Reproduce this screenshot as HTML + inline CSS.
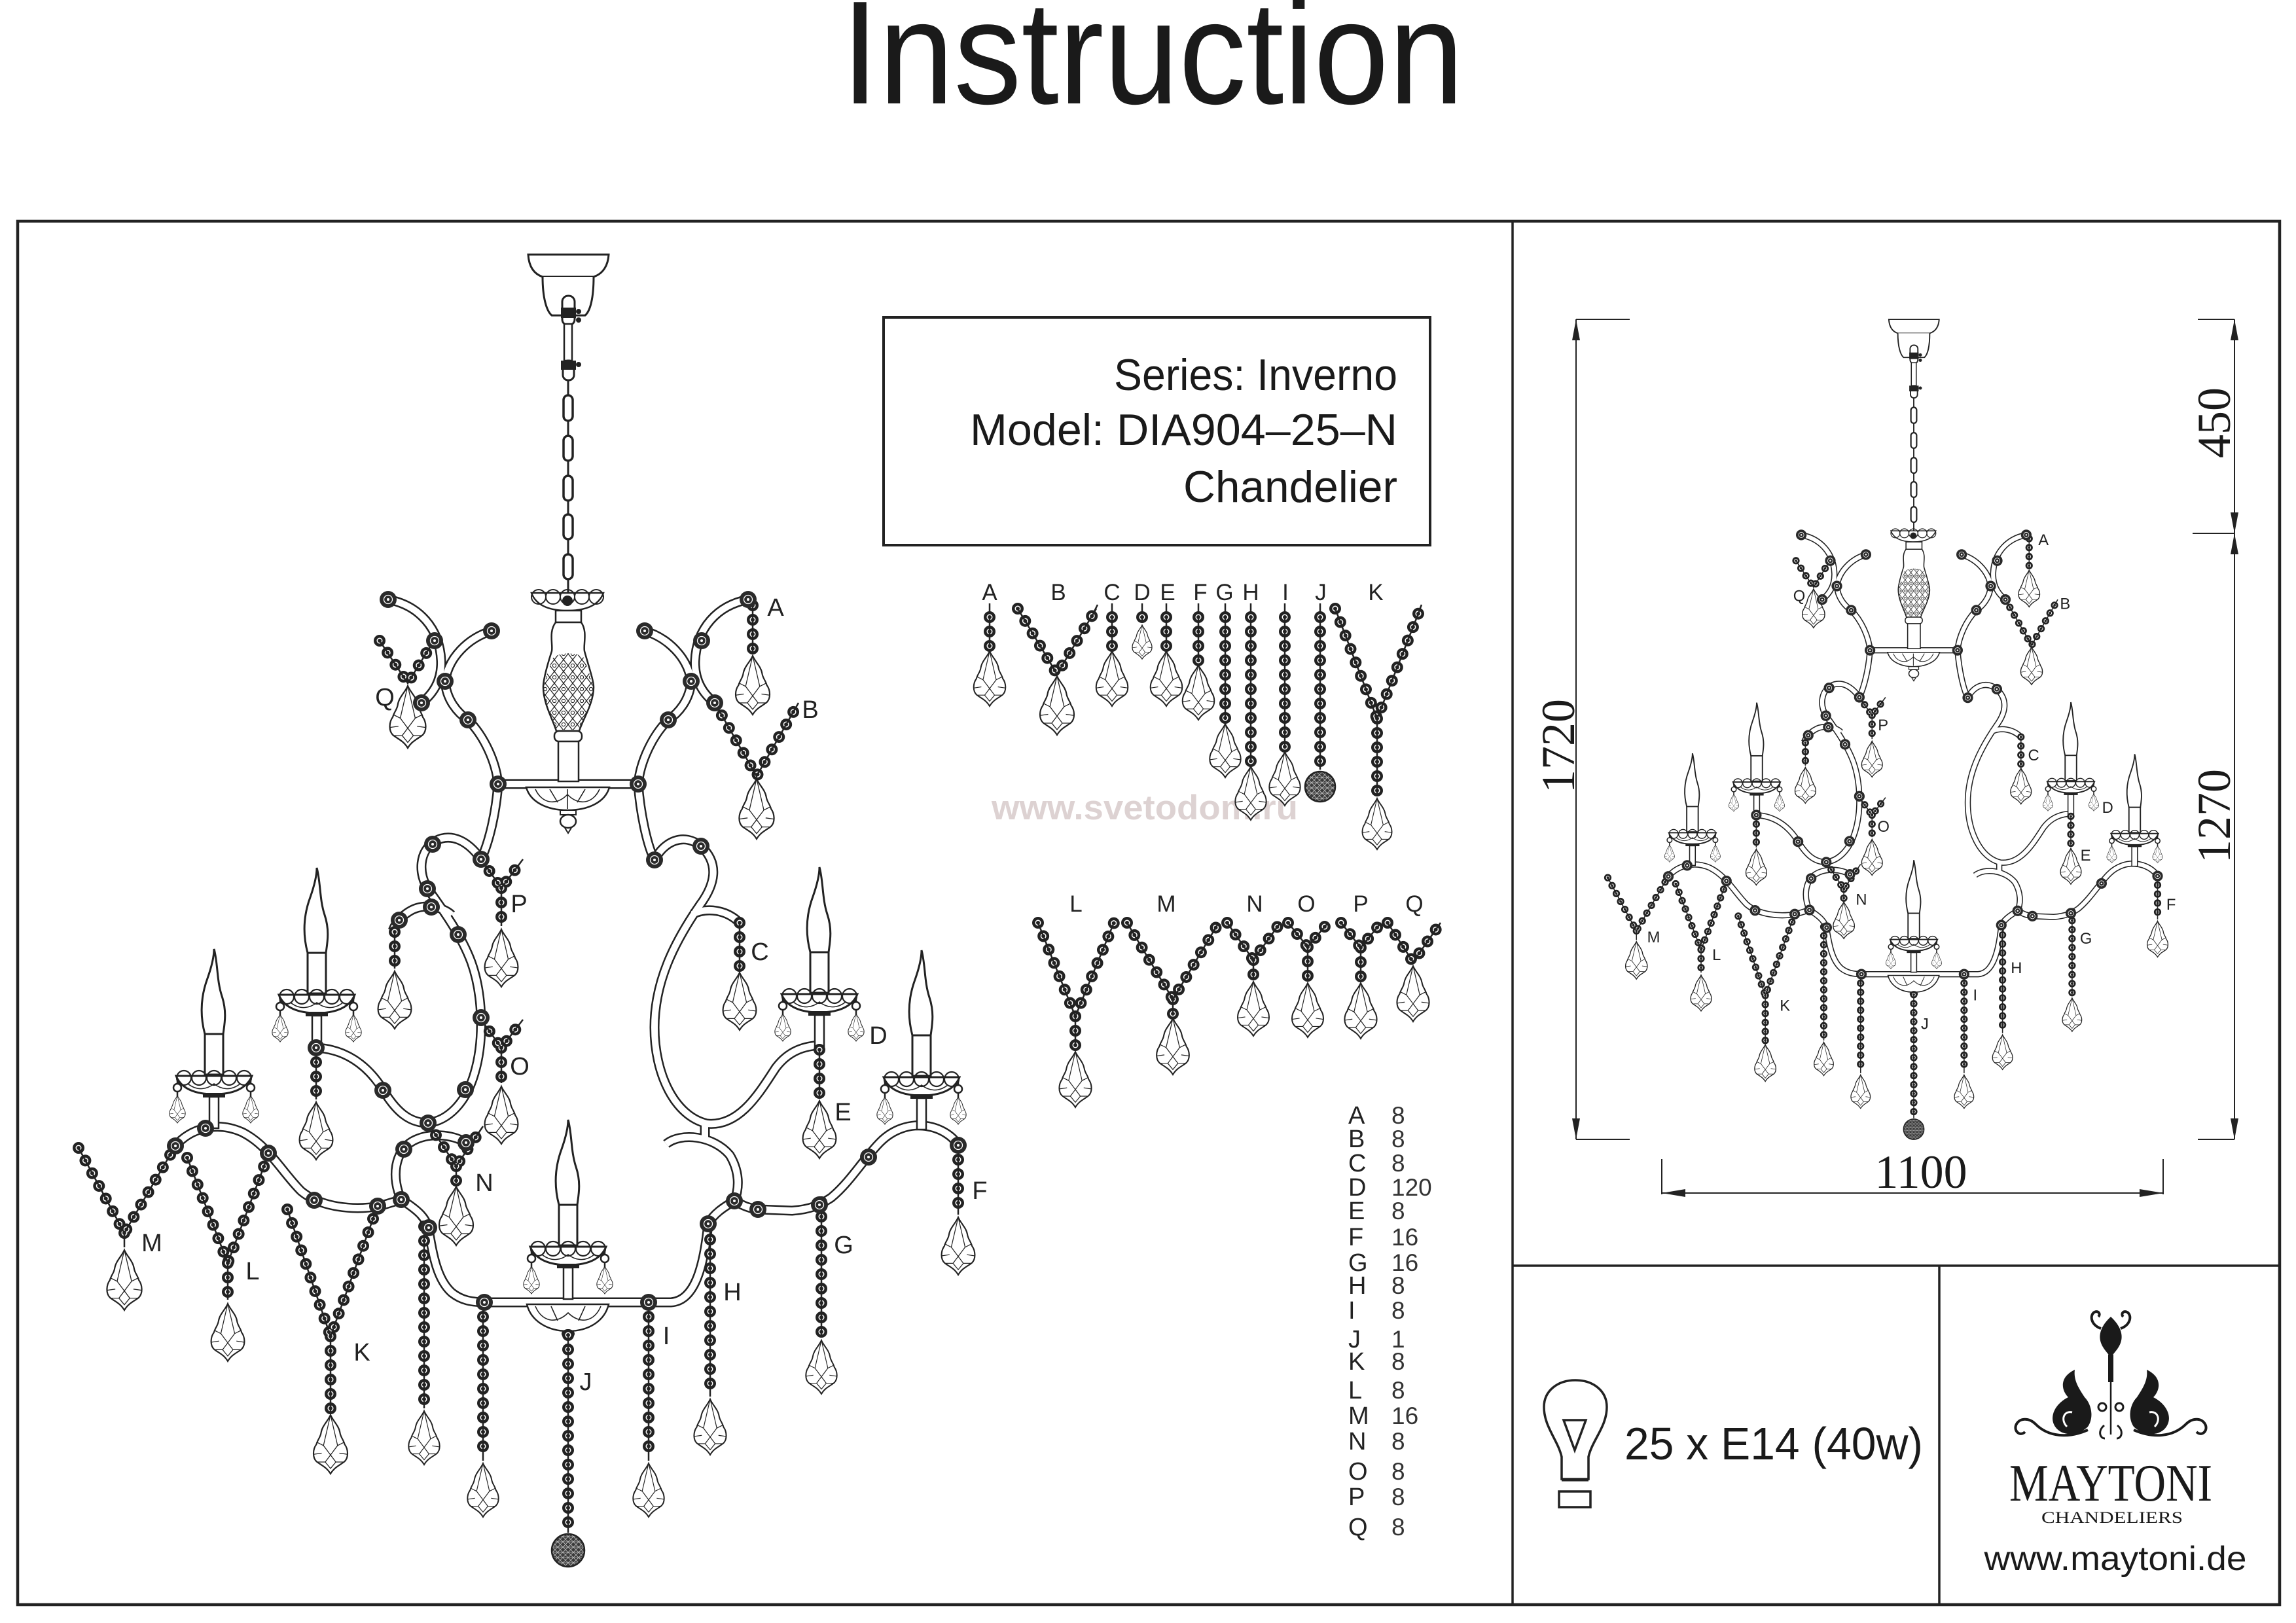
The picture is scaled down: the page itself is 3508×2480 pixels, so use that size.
<!DOCTYPE html>
<html><head><meta charset="utf-8"><style>
html,body{margin:0;padding:0;background:#fff;}
svg{display:block;}
text{font-family:"Liberation Sans",Arial,sans-serif;}
.serif,.serif text{font-family:"Liberation Serif","Times New Roman",serif;}
</style></head><body>
<svg xmlns="http://www.w3.org/2000/svg" width="3508" height="2480" viewBox="0 0 3508 2480">
<defs>
<pattern id="dia" width="14" height="18" patternUnits="userSpaceOnUse"><path d="M0,9 L7,0 L14,9 L7,18 Z" fill="none" stroke="#222" stroke-width="1.3"/><circle cx="7" cy="9" r="2.6" fill="none" stroke="#222" stroke-width="1.1"/></pattern>
<pattern id="mesh" width="8" height="8" patternUnits="userSpaceOnUse"><rect width="8" height="8" fill="#3a3a3a"/><path d="M0,0 L8,8 M8,0 L0,8 M0,4 L8,4" stroke="#bbb" stroke-width="0.8"/></pattern>
<g id="cr"><path d="M0,0 C-4,10 -14,18 -16,30 C-17,38 -22,42 -24,50 C-30,58 -31,72 -24,79 C-17,85 -7,88 0,100 C7,88 17,85 24,79 C31,72 30,58 24,50 C22,42 17,38 16,30 C14,18 4,10 0,0 Z" fill="#fff" stroke="#222" stroke-width="2.4"/><path d="M0,0 L-12,52 L0,68 L12,52 Z M-29,67 L-15,65 M29,67 L15,65 M-12,52 L-22,47 M12,52 L22,47 M0,68 L-9,80 L0,91 L9,80 Z M-9,80 L-22,80 M9,80 L22,80" fill="none" stroke="#222" stroke-width="1.4"/></g>
<g id="ab"><circle r="13" fill="#2a2a2a"/><circle r="6.5" fill="none" stroke="#fff" stroke-width="1.3"/><circle r="2" fill="#fff"/></g>
<g id="candle">
<path d="M-14,130 C-22,100 -20,72 -10,45 C-4,28 0,12 0,0 C6,22 4,48 12,72 C20,96 16,115 14,130 Z" fill="#fff" stroke="#222" stroke-width="3"/>
<rect x="-14" y="130" width="28" height="62" fill="#fff" stroke="#222" stroke-width="3"/>
<rect x="-7" y="226" width="14" height="48" fill="#fff" stroke="#222" stroke-width="2.5"/>
<path d="M-58,194 C-50,214 -28,222 0,222 C28,222 50,214 58,194 Z" fill="#fff" stroke="#222" stroke-width="3"/>
<g fill="none" stroke="#222" stroke-width="2.2"><circle cx="-46" cy="197" r="11"/><circle cx="-23" cy="197" r="11"/><circle cx="0" cy="197" r="11"/><circle cx="23" cy="197" r="11"/><circle cx="46" cy="197" r="11"/></g>
<path d="M-40,206 C-25,218 -10,214 0,206 C10,214 25,218 40,206" fill="none" stroke="#222" stroke-width="1.5"/>
<rect x="-17" y="220" width="34" height="7" fill="#222"/>
<path d="M-56,200 L-56,228 M56,200 L56,228" stroke="#222" stroke-width="2.5"/>
<circle cx="-56" cy="212" r="6" fill="#fff" stroke="#222" stroke-width="2.5"/><circle cx="56" cy="212" r="6" fill="#fff" stroke="#222" stroke-width="2.5"/>
<use href="#cr" transform="translate(-56,224) scale(0.42)"/><use href="#cr" transform="translate(56,224) scale(0.42)"/>
</g>
<g id="tubesL">
<path d="M593,916 C640,925 672,960 674,1010 C675,1040 662,1060 644,1074"/>
<path d="M751,964 C715,975 685,1005 680,1041 C682,1070 700,1090 715,1100 C740,1125 758,1165 761,1198"/>
<path d="M1143,916 C1096,925 1064,960 1062,1010 C1061,1040 1074,1060 1092,1074"/>
<path d="M985,964 C1021,975 1051,1005 1056,1041 C1054,1070 1036,1090 1021,1100 C996,1125 978,1165 975,1198"/>
<path d="M761,1198 L975,1198"/>
<path d="M761,1198 C758,1240 748,1285 735,1313"/>
<path d="M735,1313 C715,1285 690,1272 665,1285 C640,1300 638,1335 655,1360 C680,1395 705,1430 720,1470 C738,1520 740,1590 725,1640 C712,1685 685,1712 654,1716"/>
<path d="M690,1398 C675,1384 645,1380 625,1393 C612,1401 604,1412 600,1422"/>
<path d="M483,1601 C525,1603 560,1625 585,1665 C605,1698 625,1716 654,1716"/>
<path d="M975,1198 C978,1240 988,1290 1000,1314"/>
<path d="M1000,1314 C1015,1285 1045,1272 1071,1293 C1100,1320 1092,1352 1070,1382 C1030,1440 1000,1500 1000,1570 C1000,1640 1030,1705 1080,1717 C1130,1722 1160,1670 1185,1632 C1205,1605 1230,1598 1255,1597"/>
<path d="M1058,1397 C1080,1386 1110,1390 1130,1410"/>
<path d="M1077,1717 L1077,1740"/>
<path d="M268,1751 C290,1725 330,1712 370,1730 C410,1750 430,1790 460,1820 C490,1845 540,1850 580,1843 L613,1833"/>
<path d="M613,1833 C598,1800 602,1760 630,1744 C655,1730 690,1733 712,1746"/>
<path d="M613,1833 C640,1850 652,1862 655,1880 C662,1920 668,1955 690,1975 C705,1987 720,1990 745,1990 L1025,1990 C1060,1988 1075,1940 1082,1870 C1090,1855 1105,1845 1122,1835"/>
<path d="M1018,1748 C1040,1730 1090,1735 1115,1765 C1130,1790 1130,1815 1122,1835"/>
<path d="M1122,1835 C1135,1842 1145,1847 1160,1848 L1210,1850 C1240,1848 1255,1840 1270,1830 C1300,1805 1320,1770 1345,1745 C1365,1725 1390,1718 1410,1720 C1435,1722 1455,1735 1464,1750"/>
</g>
<g id="chL">
<path d="M1150,925 L1150,1000"/>
<path d="M1092,1074 L1156,1186 L1220,1074"/>
<path d="M580,979 L623,1044 L664,977"/>
<path d="M735,1313 L766,1357 L799,1313 M766,1357 L766,1415"/>
<path d="M735,1558 L766,1601 L799,1558 M766,1601 L766,1655"/>
<path d="M654,1716 L697,1782 L738,1721 M697,1782 L697,1808"/>
<path d="M120,1754 L190,1884 L268,1751 M190,1884 L190,1906"/>
<path d="M286,1769 L348,1930 L409,1767 M348,1930 L348,1986"/>
<path d="M439,1848 L505,2042 L577,1843 M505,2042 L505,2158"/>
<path d="M648,1874 L648,2152"/>
<path d="M738,1990 L738,2232"/>
<path d="M868,2040 L868,2342"/>
<path d="M991,1990 L991,2232"/>
<path d="M1085,1872 L1085,2134"/>
<path d="M1255,1837 L1255,2044"/>
<path d="M1464,1750 L1464,1856"/>
<path d="M1252,1604 L1252,1678"/>
<path d="M483,1601 L483,1680"/>
<path d="M1130,1410 L1130,1482"/>
<path d="M603,1424 L603,1480"/>
</g>
<g id="chP">
<path d="M1512,943 L1512,990"/>
<path d="M1555,930 L1615,1030 L1675,930"/>
<path d="M1699,943 L1699,990"/>
<path d="M1745,943 L1745,950"/>
<path d="M1782,943 L1782,990"/>
<path d="M1831,943 L1831,1012"/>
<path d="M1872,943 L1872,1100"/>
<path d="M1911,943 L1911,1166"/>
<path d="M1963,943 L1963,1144"/>
<path d="M2017,943 L2017,1176"/>
<path d="M2040,930 L2104,1098 L2170,930 M2104,1098 L2104,1214"/>
<path d="M1586,1410 L1643,1553 L1702,1410 M1643,1553 L1643,1600"/>
<path d="M1722,1410 L1792,1527 L1862,1410 M1792,1527 L1792,1550"/>
<path d="M1875,1410 L1915,1467 L1956,1410 M1915,1467 L1915,1494"/>
<path d="M1968,1410 L1998,1447 L2029,1410 M1998,1447 L1998,1496"/>
<path d="M2049,1410 L2079,1448 L2110,1410 M2079,1448 L2079,1496"/>
<path d="M2120,1410 L2159,1470 L2201,1410"/>
</g>
<g id="chand">
<use href="#tubesL" fill="none" stroke="#222" stroke-width="15"/>
<use href="#tubesL" fill="none" stroke="#fff" stroke-width="10"/>
<path d="M807,389 L930,389 C929,405 922,418 907,423 L829,423 C814,418 808,405 807,389 Z" fill="#fff" stroke="#222" stroke-width="3"/>
<path d="M829,423 C829,455 835,475 843,482 L894,482 C902,475 907,455 907,423" fill="#fff" stroke="#222" stroke-width="3"/>
<line x1="868" y1="495" x2="868" y2="905" stroke="#222" stroke-width="3"/>
<rect x="859" y="452" width="19" height="45" rx="9" fill="#fff" stroke="#222" stroke-width="3"/>
<rect x="857" y="470" width="23" height="16" fill="#222"/>
<circle cx="884" cy="476" r="4" fill="#222"/><circle cx="884" cy="489" r="4" fill="#222"/>
<rect x="862" y="495" width="12" height="56" fill="#fff" stroke="#222" stroke-width="2.5"/>
<rect x="860" y="551" width="17" height="30" rx="8" fill="#fff" stroke="#222" stroke-width="3"/>
<rect x="857" y="551" width="23" height="14" fill="#222"/>
<circle cx="884" cy="557" r="4" fill="#222"/>
<g fill="#fff" stroke="#222" stroke-width="3.5">
<rect x="861" y="604" width="14" height="39" rx="7"/><rect x="861" y="666" width="14" height="38" rx="7"/><rect x="861" y="727" width="14" height="38" rx="7"/><rect x="861" y="786" width="14" height="38" rx="7"/><rect x="861" y="847" width="14" height="38" rx="7"/>
</g>
<path d="M812,906 L922,906 C915,925 895,933 867,933 C839,933 819,925 812,906 Z" fill="#fff" stroke="#222" stroke-width="2.5"/>
<g fill="none" stroke="#222" stroke-width="2"><circle cx="823" cy="912" r="11"/><circle cx="845" cy="912" r="11"/><circle cx="867" cy="912" r="11"/><circle cx="889" cy="912" r="11"/><circle cx="911" cy="912" r="11"/></g>
<circle cx="867" cy="918" r="8" fill="#222"/>
<rect x="849" y="933" width="39" height="18" fill="#fff" stroke="#222" stroke-width="2.5"/>
<path d="M849,951 C838,965 845,985 843,995 C835,1020 830,1040 830,1050 C830,1075 845,1100 850,1117 L885,1117 C890,1100 907,1075 907,1050 C907,1040 900,1020 893,995 C891,985 898,965 888,951 Z" fill="#fff" stroke="#222" stroke-width="2.5"/>
<path d="M845,1005 C835,1030 831,1045 831,1052 C831,1075 845,1100 851,1115 L884,1115 C890,1100 906,1075 906,1052 C906,1045 901,1030 892,1005 C880,996 857,996 845,1005 Z" fill="url(#dia)"/>
<rect x="847" y="1117" width="42" height="16" rx="7" fill="#fff" stroke="#222" stroke-width="2.5"/>
<rect x="853" y="1133" width="31" height="61" fill="#fff" stroke="#222" stroke-width="2.5"/>
<path d="M804,1203 L931,1203 C925,1225 900,1238 867,1238 C835,1238 810,1225 804,1203 Z" fill="#fff" stroke="#222" stroke-width="2.5"/>
<path d="M818,1206 C828,1228 850,1232 867,1214 C884,1232 906,1228 916,1206 M840,1206 L852,1226 M894,1206 L882,1226 M867,1206 L867,1236" fill="none" stroke="#222" stroke-width="1.6"/>
<rect x="856" y="1238" width="24" height="7" fill="#fff" stroke="#222" stroke-width="2"/>
<ellipse cx="868" cy="1255" rx="12" ry="10" fill="#fff" stroke="#222" stroke-width="2.5"/>
<path d="M863,1265 L868,1273 L873,1265" fill="none" stroke="#222" stroke-width="2"/>
<use href="#candle" x="327" y="1450"/>
<use href="#candle" x="484" y="1326"/>
<use href="#candle" x="868" y="1711"/>
<use href="#candle" x="1252" y="1325"/>
<use href="#candle" x="1408" y="1452"/>
<path d="M805,1993 L930,1993 C924,2018 900,2034 868,2034 C836,2034 811,2018 805,1993 Z" fill="#fff" stroke="#222" stroke-width="2.5"/>
<path d="M818,1996 C828,2020 850,2024 868,2006 C886,2024 908,2020 918,1996 M842,1996 L852,2018 M894,1996 L884,2018" fill="none" stroke="#222" stroke-width="1.6"/>
<ellipse cx="868" cy="2038" rx="9" ry="6" fill="#fff" stroke="#222" stroke-width="2"/>
<use href="#chL" fill="none" stroke="#222" stroke-width="18" stroke-linecap="round" stroke-dasharray="0 22"/>
<use href="#chL" fill="none" stroke="#fff" stroke-width="9" stroke-linecap="round" stroke-dasharray="0 22"/>
<use href="#chL" fill="none" stroke="#222" stroke-width="2.5"/>
<use href="#chL" fill="none" stroke="#222" stroke-width="6" stroke-linecap="round" stroke-dasharray="0 22"/>
<use href="#cr" transform="translate(1150,1002) scale(0.9)"/>
<use href="#cr" transform="translate(1156,1190) scale(0.92)"/>
<use href="#cr" transform="translate(623,1048) scale(0.95)"/>
<use href="#cr" transform="translate(766,1420) scale(0.88)"/>
<use href="#cr" transform="translate(766,1660) scale(0.88)"/>
<use href="#cr" transform="translate(697,1813) scale(0.9)"/>
<use href="#cr" transform="translate(190,1910) scale(0.92)"/>
<use href="#cr" transform="translate(348,1992) scale(0.88)"/>
<use href="#cr" transform="translate(505,2162) scale(0.9)"/>
<use href="#cr" transform="translate(648,2156) scale(0.82)"/>
<use href="#cr" transform="translate(738,2236) scale(0.82)"/>
<use href="#cr" transform="translate(991,2236) scale(0.82)"/>
<use href="#cr" transform="translate(1085,2138) scale(0.85)"/>
<use href="#cr" transform="translate(1255,2048) scale(0.82)"/>
<use href="#cr" transform="translate(1464,1860) scale(0.88)"/>
<use href="#cr" transform="translate(1252,1682) scale(0.88)"/>
<use href="#cr" transform="translate(483,1684) scale(0.88)"/>
<use href="#cr" transform="translate(1130,1486) scale(0.88)"/>
<use href="#cr" transform="translate(603,1484) scale(0.88)"/>
<circle cx="868" cy="2369" r="25" fill="url(#mesh)" stroke="#222" stroke-width="2.5"/>
<use href="#ab" x="593" y="916"/><use href="#ab" x="664" y="979"/><use href="#ab" x="644" y="1074"/><use href="#ab" x="751" y="964"/><use href="#ab" x="680" y="1041"/><use href="#ab" x="715" y="1100"/><use href="#ab" x="761" y="1198"/>
<use href="#ab" x="1143" y="916"/><use href="#ab" x="1072" y="979"/><use href="#ab" x="1092" y="1074"/><use href="#ab" x="985" y="964"/><use href="#ab" x="1056" y="1041"/><use href="#ab" x="1021" y="1100"/><use href="#ab" x="975" y="1198"/>
<use href="#ab" x="735" y="1313"/><use href="#ab" x="661" y="1290"/><use href="#ab" x="653" y="1358"/><use href="#ab" x="700" y="1428"/><use href="#ab" x="735" y="1555"/><use href="#ab" x="711" y="1665"/><use href="#ab" x="654" y="1716"/><use href="#ab" x="585" y="1666"/><use href="#ab" x="483" y="1601"/><use href="#ab" x="659" y="1386"/><use href="#ab" x="610" y="1406"/>
<use href="#ab" x="1000" y="1314"/><use href="#ab" x="1071" y="1293"/>
<use href="#ab" x="268" y="1751"/><use href="#ab" x="314" y="1724"/><use href="#ab" x="410" y="1762"/><use href="#ab" x="480" y="1834"/><use href="#ab" x="577" y="1843"/><use href="#ab" x="613" y="1833"/><use href="#ab" x="617" y="1756"/><use href="#ab" x="712" y="1746"/><use href="#ab" x="655" y="1876"/><use href="#ab" x="740" y="1990"/><use href="#ab" x="991" y="1990"/>
<use href="#ab" x="1082" y="1870"/><use href="#ab" x="1122" y="1835"/><use href="#ab" x="1158" y="1848"/><use href="#ab" x="1252" y="1841"/><use href="#ab" x="1327" y="1768"/><use href="#ab" x="1464" y="1750"/>
</g>
</defs>

<!-- Title -->
<text x="1761" y="158" font-size="225" text-anchor="middle" fill="#1a1a1a" textLength="951" lengthAdjust="spacingAndGlyphs">Instruction</text>

<!-- Frame -->
<g fill="none" stroke="#222">
<rect x="27" y="338" width="3456" height="2114" stroke-width="4.5"/>
<line x1="2311" y1="338" x2="2311" y2="2452" stroke-width="3.5"/>
<line x1="2311" y1="1934" x2="3483" y2="1934" stroke-width="3.5"/>
<line x1="2963" y1="1934" x2="2963" y2="2452" stroke-width="3.5"/>
<rect x="1350" y="485" width="835" height="348" stroke-width="4"/>
</g>

<!-- Series box text -->
<g font-size="68" fill="#1a1a1a" text-anchor="end">
<text x="2135" y="596" textLength="433" lengthAdjust="spacingAndGlyphs">Series: Inverno</text>
<text x="2135" y="680" textLength="653" lengthAdjust="spacingAndGlyphs">Model: DIA904–25–N</text>
<text x="2135" y="767" textLength="327" lengthAdjust="spacingAndGlyphs">Chandelier</text>
</g>

<!-- Watermark -->
<text x="1749" y="1252" text-anchor="middle" font-size="53" font-weight="bold" fill="#ddd2d2" textLength="468" lengthAdjust="spacingAndGlyphs">www.svetodom.ru</text>

<!-- Parts legend -->
<g fill="#222" font-size="35" text-anchor="middle">
<text x="1512" y="917">A</text><text x="1617" y="917">B</text><text x="1699" y="917">C</text><text x="1745" y="917">D</text><text x="1784" y="917">E</text><text x="1834" y="917">F</text><text x="1871" y="917">G</text><text x="1911" y="917">H</text><text x="1964" y="917">I</text><text x="2018" y="917">J</text><text x="2102" y="917">K</text>
<text x="1644" y="1393">L</text><text x="1782" y="1393">M</text><text x="1917" y="1393">N</text><text x="1996" y="1393">O</text><text x="2079" y="1393">P</text><text x="2161" y="1393">Q</text>
</g>
<path d="M1512,922 V943 M1699,922 V943 M1745,922 V943 M1782,922 V943 M1831,922 V943 M1872,922 V943 M1911,922 V943 M1963,922 V943 M2017,922 V943 M1553,924 L1558,934 M1677,924 L1672,934 M2038,924 L2042,934 M2172,924 L2168,934" stroke="#222" stroke-width="2.5" fill="none"/>
<use href="#chP" fill="none" stroke="#222" stroke-width="18" stroke-linecap="round" stroke-dasharray="0 22"/>
<use href="#chP" fill="none" stroke="#fff" stroke-width="9" stroke-linecap="round" stroke-dasharray="0 22"/>
<use href="#chP" fill="none" stroke="#222" stroke-width="2.5"/>
<use href="#chP" fill="none" stroke="#222" stroke-width="6" stroke-linecap="round" stroke-dasharray="0 22"/>
<use href="#cr" transform="translate(1512,995) scale(0.84)"/>
<use href="#cr" transform="translate(1615,1033) scale(0.9)"/>
<use href="#cr" transform="translate(1699,995) scale(0.84)"/>
<use href="#cr" transform="translate(1745,955) scale(0.52)"/>
<use href="#cr" transform="translate(1782,995) scale(0.84)"/>
<use href="#cr" transform="translate(1831,1016) scale(0.84)"/>
<use href="#cr" transform="translate(1872,1106) scale(0.82)"/>
<use href="#cr" transform="translate(1911,1171) scale(0.82)"/>
<use href="#cr" transform="translate(1963,1149) scale(0.82)"/>
<circle cx="2017" cy="1202" r="23" fill="url(#mesh)" stroke="#222" stroke-width="2.5"/>
<use href="#cr" transform="translate(2104,1220) scale(0.78)"/>
<use href="#cr" transform="translate(1643,1607) scale(0.85)"/>
<use href="#cr" transform="translate(1792,1556) scale(0.86)"/>
<use href="#cr" transform="translate(1915,1500) scale(0.83)"/>
<use href="#cr" transform="translate(1998,1502) scale(0.83)"/>
<use href="#cr" transform="translate(2079,1502) scale(0.85)"/>
<use href="#cr" transform="translate(2159,1476) scale(0.85)"/>

<!-- Quantities -->
<g fill="#222" font-size="38">
<text x="2060" y="1717">A</text><text x="2060" y="1753">B</text><text x="2060" y="1790">C</text><text x="2060" y="1827">D</text><text x="2060" y="1863">E</text><text x="2060" y="1903">F</text><text x="2060" y="1942">G</text><text x="2060" y="1977">H</text><text x="2060" y="2015">I</text><text x="2060" y="2059">J</text><text x="2060" y="2093">K</text><text x="2060" y="2137">L</text><text x="2060" y="2176">M</text><text x="2060" y="2215">N</text><text x="2060" y="2261">O</text><text x="2060" y="2300">P</text><text x="2060" y="2346">Q</text>
</g>
<g fill="#333" font-size="37">
<text x="2126" y="1717">8</text><text x="2126" y="1753">8</text><text x="2126" y="1790">8</text><text x="2126" y="1827">120</text><text x="2126" y="1863">8</text><text x="2126" y="1903">16</text><text x="2126" y="1942">16</text><text x="2126" y="1977">8</text><text x="2126" y="2015">8</text><text x="2126" y="2059">1</text><text x="2126" y="2093">8</text><text x="2126" y="2137">8</text><text x="2126" y="2176">16</text><text x="2126" y="2215">8</text><text x="2126" y="2261">8</text><text x="2126" y="2300">8</text><text x="2126" y="2346">8</text>
</g>

<!-- Main chandelier -->
<use href="#chand"/>
<g fill="#222" font-size="38" text-anchor="middle">
<text x="1185" y="941">A</text><text x="1238" y="1097">B</text><text x="1161" y="1467">C</text><text x="1342" y="1595">D</text><text x="1288" y="1712">E</text><text x="1497" y="1832">F</text><text x="1289" y="1915">G</text><text x="1119" y="1987">H</text><text x="1018" y="2054">I</text><text x="895" y="2124">J</text><text x="553" y="2079">K</text><text x="386" y="1955">L</text><text x="232" y="1912">M</text><text x="740" y="1820">N</text><text x="794" y="1642">O</text><text x="793" y="1394">P</text><text x="588" y="1078">Q</text>
</g>

<!-- Right panel chandelier -->
<use href="#chand" transform="matrix(0.625 0 0 0.625 2381.5 244.9)"/>
<g transform="matrix(0.625 0 0 0.625 2381.5 244.9)" fill="#222" font-size="38" text-anchor="middle">
<text x="1185" y="941">A</text><text x="1238" y="1097">B</text><text x="1161" y="1467">C</text><text x="1342" y="1595">D</text><text x="1288" y="1712">E</text><text x="1497" y="1832">F</text><text x="1289" y="1915">G</text><text x="1119" y="1987">H</text><text x="1018" y="2054">I</text><text x="895" y="2124">J</text><text x="553" y="2079">K</text><text x="386" y="1955">L</text><text x="232" y="1912">M</text><text x="740" y="1820">N</text><text x="794" y="1642">O</text><text x="793" y="1394">P</text><text x="588" y="1078">Q</text>
</g>

<!-- Dimensions -->
<g stroke="#222" stroke-width="2" fill="none">
<line x1="2408" y1="488" x2="2408" y2="1741"/>
<line x1="2408" y1="488" x2="2490" y2="488"/>
<line x1="2408" y1="1741" x2="2490" y2="1741"/>
<line x1="3414" y1="488" x2="3414" y2="1741"/>
<line x1="3358" y1="488" x2="3414" y2="488"/>
<line x1="3350" y1="815" x2="3414" y2="815"/>
<line x1="3358" y1="1741" x2="3414" y2="1741"/>
<line x1="2539" y1="1823" x2="3305" y2="1823"/>
<line x1="2539" y1="1771" x2="2539" y2="1825"/>
<line x1="3305" y1="1771" x2="3305" y2="1825"/>
</g>
<g fill="#222">
<path d="M2408,488 L2402,520 L2414,520 Z"/>
<path d="M2408,1741 L2402,1709 L2414,1709 Z"/>
<path d="M3414,488 L3408,520 L3420,520 Z"/>
<path d="M3414,815 L3408,783 L3420,783 Z"/>
<path d="M3414,815 L3408,847 L3420,847 Z"/>
<path d="M3414,1741 L3408,1709 L3420,1709 Z"/>
<path d="M2539,1823 L2575,1817 L2575,1829 Z"/>
<path d="M3305,1823 L3269,1817 L3269,1829 Z"/>
</g>
<g font-size="72" fill="#1a1a1a" text-anchor="middle">
<text class="serif" transform="translate(2405,1140) rotate(-90)">1720</text>
<text class="serif" transform="translate(3407,646) rotate(-90)">450</text>
<text class="serif" transform="translate(3407,1247) rotate(-90)">1270</text>
<text class="serif" x="2935" y="1815">1100</text>
</g>

<!-- Bulb -->
<g fill="none" stroke="#222" stroke-width="3.5">
<path d="M2386,2260 L2386,2226 C2380,2200 2359,2180 2359,2150 C2359,2125 2380,2109 2407,2109 C2434,2109 2455,2125 2455,2150 C2455,2180 2433,2200 2427,2226 L2427,2260 Z"/>
<path d="M2389,2170 L2423,2170 L2406,2216 Z"/>
<rect x="2382" y="2279" width="48" height="24"/>
</g>
<line x1="2386" y1="2261" x2="2427" y2="2261" stroke="#222" stroke-width="5"/>
<text x="2482" y="2230" font-size="70" fill="#1a1a1a" textLength="456" lengthAdjust="spacingAndGlyphs">25 x E14 (40w)</text>

<!-- Maytoni logo -->
<g fill="#1a1a1a">
<path d="M3225,2012 C3212,2024 3205,2038 3210,2052 C3214,2063 3222,2068 3225,2076 C3228,2068 3236,2063 3240,2052 C3245,2038 3238,2024 3225,2012 Z"/>
<rect x="3221" y="2070" width="8" height="42"/>
<path d="M3170,2093 C3145,2105 3150,2125 3160,2135 C3140,2145 3130,2165 3140,2180 C3150,2195 3175,2195 3190,2180 C3200,2165 3195,2145 3185,2135 C3175,2120 3168,2108 3170,2093 Z"/>
<path d="M3280,2093 C3305,2105 3300,2125 3290,2135 C3310,2145 3320,2165 3310,2180 C3300,2195 3275,2195 3260,2180 C3250,2165 3255,2145 3265,2135 C3275,2120 3282,2108 3280,2093 Z"/>
</g>
<g fill="none" stroke="#1a1a1a" stroke-width="4">
<path d="M3210,2030 C3195,2025 3192,2010 3200,2005 C3206,2002 3210,2008 3206,2012"/>
<path d="M3240,2030 C3255,2025 3258,2010 3250,2005 C3244,2002 3240,2008 3244,2012"/>
<path d="M3225,2112 L3225,2192" stroke-width="2.5"/>
<path d="M3190,2185 C3160,2198 3130,2196 3110,2176 C3100,2166 3085,2166 3080,2178 C3077,2188 3087,2195 3094,2188"/>
<path d="M3260,2185 C3290,2198 3320,2196 3340,2176 C3350,2166 3365,2166 3370,2178 C3373,2188 3363,2195 3356,2188"/>
<circle cx="3212" cy="2150" r="6" stroke-width="3"/><circle cx="3238" cy="2150" r="6" stroke-width="3"/>
<path d="M3215,2178 C3205,2186 3208,2198 3216,2198 M3235,2178 C3245,2186 3242,2198 3234,2198" stroke-width="3"/>
</g>
<g fill="none" stroke="#fff" stroke-width="3">
<path d="M3158,2180 C3148,2170 3153,2155 3166,2158"/>
<path d="M3292,2180 C3302,2170 3297,2155 3284,2158"/>
</g>
<text class="serif" x="3225" y="2293" font-size="80" fill="#1a1a1a" text-anchor="middle" textLength="310" lengthAdjust="spacingAndGlyphs">MAYTONI</text>
<text class="serif" x="3227" y="2327" font-size="25" fill="#1a1a1a" text-anchor="middle" textLength="216" lengthAdjust="spacingAndGlyphs">CHANDELIERS</text>
<text x="3232" y="2399" font-size="52" fill="#1a1a1a" text-anchor="middle" textLength="401" lengthAdjust="spacingAndGlyphs">www.maytoni.de</text>
</svg>
</body></html>
